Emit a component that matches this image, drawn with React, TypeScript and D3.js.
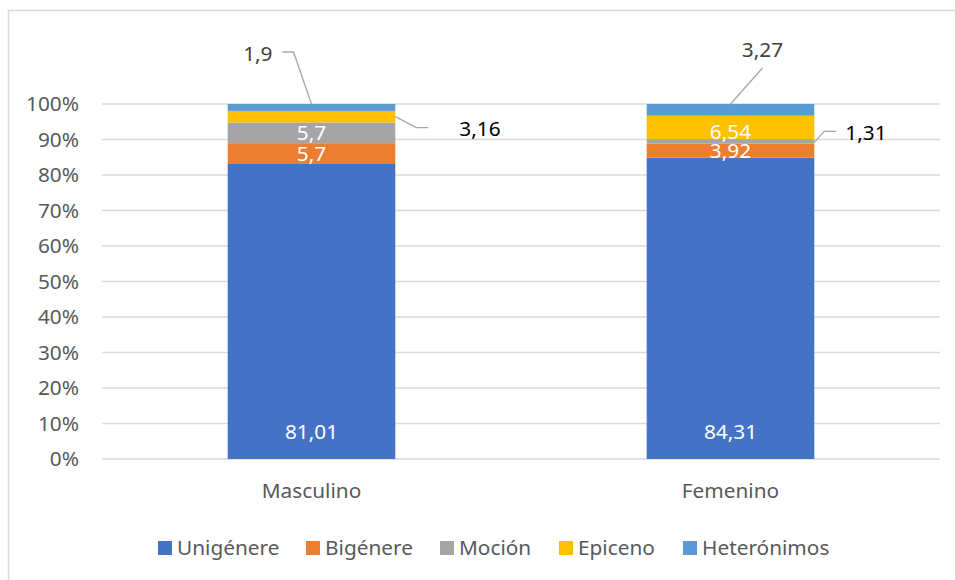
import React from "react";
import * as d3 from "d3";

const categories = ["Masculino", "Femenino"];
const seriesNames = ["Unigénere", "Bigénere", "Moción", "Epiceno", "Heterónimos"];
const unigenere = [81.01, 84.31];
const bigenere = [5.7, 3.92];
const mocion = [5.7, 1.31];
const epiceno = [3.16, 6.54];
const heteronimos = [1.9, 3.27];
const colors = ["#4472C4", "#ED7D31", "#A5A5A5", "#FFC000", "#5B9BD5"];
const yTicks = [0, 0.1, 0.2, 0.3, 0.4, 0.5, 0.6, 0.7, 0.8, 0.9, 1];

const W = 955;
const H = 580;
const FONT = "'Noto Sans', 'Open Sans', sans-serif";
const FS = 20.8;

export default function App() {
  const margin = { left: 102, right: 15, top: 104, bottom: 121 };
  const x = d3
    .scaleBand()
    .domain(categories)
    .range([margin.left, W - margin.right])
    .paddingInner(0.6)
    .paddingOuter(0.3);
  const y = d3.scaleLinear().domain([0, 1]).range([H - margin.bottom, margin.top]);

  const rows = categories.map((c, i) => ({
    cat: c,
    "Unigénere": unigenere[i],
    "Bigénere": bigenere[i],
    "Moción": mocion[i],
    "Epiceno": epiceno[i],
    "Heterónimos": heteronimos[i],
  }));
  const stack = d3.stack<any>().keys(seriesNames).offset(d3.stackOffsetExpand);
  const layers = stack(rows);

  const bw = x.bandwidth();
  const fmt = (v: number) => String(v).replace(".", ",");

  const outside: Record<string, { color: string; pts: (cx: number, x1: number, yT: number, yM: number) => [number, number][] }> = {
    "4-0": {
      color: "#404040",
      pts: (cx, x1, yT) => [[cx - 29, yT - 52], [cx - 18, yT - 52], [cx, yT]],
    },
    "3-0": {
      color: "#000000",
      pts: (cx, x1, yT, yM) => [[x1, yM], [x1 + 21, yM + 11], [x1 + 33, yM + 11]],
    },
    "4-1": {
      color: "#404040",
      pts: (cx, x1, yT) => [[cx + 32, yT - 36], [cx, yT]],
    },
    "2-1": {
      color: "#000000",
      pts: (cx, x1, yT, yM) => [[x1, yM + 1], [x1 + 10, yM - 10], [x1 + 22, yM - 10]],
    },
  };

  return (
    <svg
      width={W}
      height={H}
      style={{ position: "absolute", left: 0, top: 0, background: "#fff", fontFamily: FONT }}
    >
      <rect x={8.5} y={10.5} width={1000} height={1000} fill="#fff" stroke="#D9D9D9" strokeWidth={1.5} />
      {yTicks.map((t) => (
        <g key={t}>
          <line x1={margin.left} x2={W - margin.right} y1={y(t)} y2={y(t)} stroke="#D9D9D9" strokeWidth={1.5} />
          <text x={79} y={y(t)} dy="0.35em" textAnchor="end" fontSize={FS} fill="#595959">
            {Math.round(t * 100)}%
          </text>
        </g>
      ))}
      {layers.map((layer, si) =>
        layer.map((d, ci) => {
          const x0 = x(categories[ci])!;
          return (
            <rect
              key={`${si}-${ci}`}
              x={x0}
              width={bw}
              y={y(d[1])}
              height={y(d[0]) - y(d[1])}
              fill={colors[si]}
            />
          );
        })
      )}
      {layers.map((layer, si) =>
        layer.map((d, ci) => {
          const key = `${si}-${ci}`;
          const x0 = x(categories[ci])!;
          const cx = x0 + bw / 2;
          const x1 = x0 + bw;
          const yT = y(d[1]);
          const yM = (y(d[0]) + y(d[1])) / 2;
          const v = (rows[ci] as any)[seriesNames[si]] as number;
          const o = outside[key];
          if (o) {
            const pts = o.pts(cx, x1, yT, yM);
            let tx: number, ty: number, anchor: "start" | "middle" | "end";
            if (key === "4-0") { tx = pts[0][0] - 10; ty = pts[0][1] + 2; anchor = "end"; }
            else if (key === "3-0") { tx = pts[2][0] + 31; ty = pts[2][1] + 1; anchor = "start"; }
            else if (key === "4-1") { tx = pts[0][0]; ty = pts[0][1] - 18; anchor = "middle"; }
            else { tx = pts[2][0] + 9; ty = pts[2][1] + 1; anchor = "start"; }
            return (
              <g key={`l${key}`}>
                <path d={d3.line()(pts) as string} fill="none" stroke="#A6A6A6" strokeWidth={1.3} />
                <text x={tx} y={ty} dy="0.35em" textAnchor={anchor} fontSize={FS} fill={o.color}>
                  {fmt(v)}
                </text>
              </g>
            );
          }
          const ly = si === 0 ? y(d[0]) - 27 : yM + (si === 3 ? 4 : 0);
          return (
            <text key={`l${key}`} x={cx} y={ly} dy="0.35em" textAnchor="middle" fontSize={FS} fill="#ffffff">
              {fmt(v)}
            </text>
          );
        })
      )}
      {categories.map((c) => (
        <text key={c} x={x(c)! + bw / 2} y={491} dy="0.35em" textAnchor="middle" fontSize={FS} fill="#595959">
          {c}
        </text>
      ))}
      {(() => {
        const starts = [158, 306, 440, 559, 683];
        return seriesNames.map((s, i) => (
          <g key={s} transform={`translate(${starts[i]},541)`}>
            <rect width={14} height={14} fill={colors[i]} />
            <text x={19} y={7} dy="0.35em" fontSize={FS} fill="#595959">
              {s}
            </text>
          </g>
        ));
      })()}
    </svg>
  );
}
